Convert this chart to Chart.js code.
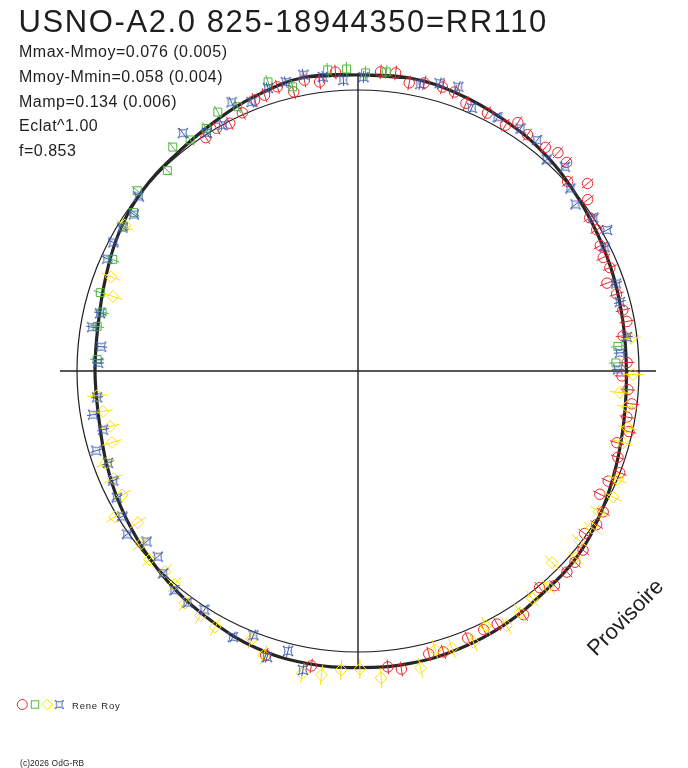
<!DOCTYPE html>
<html>
<head>
<meta charset="utf-8">
<script src="https://cdn.jsdelivr.net/npm/chart.js@4.4.1/dist/chart.umd.min.js"></script>
<style>
html,body{margin:0;padding:0;background:#fff;}
#wrap{position:relative;width:688px;height:768px;overflow:hidden;background:#fff;}
#c{position:absolute;left:0;top:0;}
#txt{position:absolute;left:0;top:0;pointer-events:none;}
#txt text{font-family:"Liberation Sans",Arial,Helvetica,sans-serif;fill:#1e1e1e;}
</style>
</head>
<body>
<div id="wrap">
<canvas id="c" width="688" height="768"></canvas>
<svg id="txt" width="688" height="768" xmlns="http://www.w3.org/2000/svg">
  <text x="18.5" y="32" font-size="31" letter-spacing="1.6">USNO-A2.0 825-18944350=RR110</text>
  <text x="19" y="56.7" font-size="16" letter-spacing="0.5">Mmax-Mmoy=0.076 (0.005)</text>
  <text x="19" y="81.5" font-size="16" letter-spacing="0.5">Mmoy-Mmin=0.058 (0.004)</text>
  <text x="19" y="106.5" font-size="16" letter-spacing="0.5">Mamp=0.134 (0.006)</text>
  <text x="19" y="131" font-size="16" letter-spacing="0.5">Eclat^1.00</text>
  <text x="19" y="155.5" font-size="16" letter-spacing="0.5">f=0.853</text>
  <text transform="translate(625,617) rotate(-45.4)" text-anchor="middle" dy="7.5" font-size="22">Provisoire</text>
  <text x="72" y="709" font-size="9.5" letter-spacing="0.8">Rene Roy</text>
  <text x="20" y="766" font-size="8.4" letter-spacing="0.1">(c)2026 OdG-RB</text>
</svg>
</div>
<script>
// ---------------- DATA (phase 0..1, brightness offset from mean in mag) ----------------
const redPhase = [0.956,0.948,0.971,0.979,0.988,0.012,0.020,0.028,0.036,0.046,0.053,0.061,0.942,0.933,0.924,0.916,0.908,0.964,
  0.550,0.525,0.484,0.477,0.461,0.453,0.438,0.428,0.420,0.405,0.389,0.382,0.372,0.365,0.357,0.349,0.341,0.333,0.325,0.316,0.309,
  0.301,0.293,0.285,0.277,0.269,0.261,0.253,0.245,0.229,0.221,0.214,0.204,0.196,0.188,0.181,0.174,0.165,0.157,0.148,0.141,0.133,
  0.125,0.118,0.111,0.099,0.091,0.086,0.074];
const redDelta = [0.072,0.051,0.074,0.053,0.094,0.095,0.097,0.058,0.073,0.076,0.071,0.038,0.045,0.010,-0.010,0.000,-0.012,0.027,
  0.089,0.088,0.082,0.101,0.053,0.063,0.039,0.033,0.039,0.068,0.008,0.050,0.045,0.041,0.033,-0.011,0.014,0.009,-0.048,-0.038,-0.001,
  -0.036,-0.062,-0.017,-0.041,-0.026,-0.052,-0.085,-0.059,-0.068,-0.038,-0.046,-0.056,-0.085,-0.044,-0.054,-0.041,-0.018,-0.016,0.028,0.077,0.008,
  0.070,0.075,0.054,0.049,0.072,0.028,0.038];

const greenPhase = [0.952,0.964,0.984,0.994,0.004,0.015,0.932,0.921,0.911,0.900,0.890,0.879,0.859,0.848,0.838,0.818,0.797,0.786,0.777,0.757,0.245,0.235];
const greenDelta = [0.109,0.053,0.108,0.106,0.086,0.097,0.047,0.067,0.026,0.023,0.048,-0.022,0.020,-0.032,-0.027,-0.058,-0.058,-0.092,-0.082,-0.099,-0.115,-0.100];

const yellowPhase = [0.839,0.808,0.797,0.735,0.725,0.715,0.705,0.694,0.684,0.673,0.664,0.654,0.643,0.633,0.622,0.613,0.602,0.591,0.581,0.560,0.551,
  0.529,0.519,0.509,0.499,0.488,0.467,0.457,0.448,0.436,0.426,0.416,0.406,0.396,0.385,0.374,0.363,0.354,0.344,0.334,0.323,0.313,0.292,0.283,0.271,0.263,0.252,0.231];
const yellowDelta = [-0.030,-0.084,-0.124,-0.095,-0.114,-0.134,-0.124,-0.062,-0.069,-0.072,0.013,-0.068,-0.018,0.000,-0.012,0.003,0.042,0.049,0.061,0.036,0.092,
  0.131,0.126,0.092,0.085,0.135,0.112,0.042,0.059,0.069,0.020,0.068,0.050,0.028,0.034,-0.041,0.028,-0.010,0.004,-0.010,0.017,0.000,-0.032,-0.027,-0.048,-0.091,-0.030,-0.030];

const bluePhase = [0.951,0.961,0.971,0.981,0.992,0.003,0.034,0.044,0.054,0.940,0.930,0.920,0.910,0.899,0.857,0.847,0.837,0.827,0.817,0.785,0.776,0.765,0.755,
  0.734,0.724,0.714,0.703,0.694,0.683,0.673,0.662,0.652,0.642,0.631,0.622,0.611,0.601,0.591,0.570,0.560,0.549,0.539,0.529,
  0.249,0.239,0.230,0.209,0.198,0.176,0.168,0.158,0.146,0.137,0.126,0.116,0.105,0.094,0.080,0.065];
const blueDelta = [0.080,0.084,0.101,0.076,0.052,0.065,0.063,0.091,0.102,0.041,0.080,-0.002,0.005,0.072,-0.004,-0.038,-0.026,-0.023,-0.031,-0.083,-0.058,-0.115,-0.105,
  -0.094,-0.062,-0.097,-0.037,-0.073,-0.064,-0.043,-0.020,0.009,-0.047,-0.040,-0.001,0.025,0.033,0.014,0.065,0.016,0.096,0.038,0.115,
  -0.105,-0.092,-0.050,-0.051,-0.042,-0.026,0.026,0.000,-0.035,-0.005,0.048,0.012,0.056,0.055,0.043,0.028];

// fitted light curve, read every 10 degrees of phase
const fitPhase = [0.000,0.028,0.056,0.083,0.111,0.139,0.167,0.194,0.222,0.250,0.278,0.306,0.333,0.361,0.389,0.417,0.444,0.472,
  0.500,0.528,0.556,0.583,0.611,0.639,0.667,0.694,0.722,0.750,0.778,0.806,0.833,0.861,0.889,0.917,0.944,0.972];
const fitDelta = [0.075,0.083,0.068,0.048,0.028,0.000,-0.025,-0.043,-0.058,-0.063,-0.053,-0.030,0.000,0.030,0.040,0.060,0.073,0.080,
  0.078,0.079,0.070,0.045,0.020,-0.010,-0.038,-0.065,-0.088,-0.090,-0.085,-0.060,-0.025,0.000,0.010,0.033,0.063,0.088];

// error bar half-lengths (mag) per observer series
const redErr = 0.037, greenErr = 0.035, yellowErr = 0.05, blueErr = 0.03;

// ---------------- LAYOUT / STYLE CONSTANTS ----------------
const MEAN_RADIUS = 1.405;       // radius of mean-magnitude circle (mag units)
const AXIS_HALF = 1.49;          // half length of the cross axes
const X_MIN = -1.79, X_MAX = 1.65, Y_MIN = -1.985, Y_MAX = 1.855;
const C_RED = '#e8242a', C_GREEN = '#4cb83a', C_YELLOW = '#ffe100', C_BLUE = '#3a58b0', C_INK = '#1e1e1e';

function toXY(phase, delta) {
  const r = MEAN_RADIUS + delta;
  const a = phase * 2 * Math.PI;
  return { x: r * Math.sin(a), y: r * Math.cos(a) };
}
function series(ph, de) { return ph.map((p, i) => Object.assign(toXY(p, de[i]), { phase: p, delta: de[i] })); }

function makeStar(s, color) {
  const size = Math.ceil(2 * s + 4);
  const c = document.createElement('canvas');
  c.width = size; c.height = size;
  const g = c.getContext('2d');
  const m = size / 2, k = s * 0.2;
  g.strokeStyle = color; g.lineWidth = 1;
  g.beginPath();
  g.moveTo(m - s, m - s);
  g.quadraticCurveTo(m, m - k, m + s, m - s);
  g.quadraticCurveTo(m + k, m, m + s, m + s);
  g.quadraticCurveTo(m, m + k, m - s, m + s);
  g.quadraticCurveTo(m - k, m, m - s, m - s);
  g.closePath(); g.stroke();
  return c;
}
const starImg = makeStar(5, C_BLUE);
const starLegend = makeStar(4.2, C_BLUE);

const fitPts = series(fitPhase, fitDelta);
const fitLoop = [fitPts[fitPts.length - 1], ...fitPts, fitPts[0], fitPts[1]];

const polarPlugin = {
  id: 'polar',
  beforeDatasetsDraw(chart) {
    const { ctx } = chart, xs = chart.scales.x, ys = chart.scales.y;
    const cx = xs.getPixelForValue(0), cy = ys.getPixelForValue(0);
    const rad = xs.getPixelForValue(MEAN_RADIUS) - cx;
    ctx.save();
    ctx.strokeStyle = C_INK; ctx.lineWidth = 1.2;
    ctx.beginPath(); ctx.arc(cx, cy, rad, 0, Math.PI * 2); ctx.stroke();
    ctx.restore();
  },
  afterDatasetDraw(chart, args) {
    const ds = chart.data.datasets[args.index];
    if (!ds.errBar) return;
    const { ctx } = chart, xs = chart.scales.x, ys = chart.scales.y;
    ctx.save();
    ctx.strokeStyle = ds.borderColor; ctx.lineWidth = 1;
    ctx.beginPath();
    ds.data.forEach(p => {
      const a = toXY(p.phase, p.delta - ds.errBar), b = toXY(p.phase, p.delta + ds.errBar);
      ctx.moveTo(xs.getPixelForValue(a.x), ys.getPixelForValue(a.y));
      ctx.lineTo(xs.getPixelForValue(b.x), ys.getPixelForValue(b.y));
    });
    ctx.stroke();
    ctx.restore();
  },
  afterDraw(chart) {
    const ctx = chart.ctx, y = 704.5;
    ctx.save(); ctx.lineWidth = 1;
    ctx.strokeStyle = C_RED; ctx.beginPath(); ctx.arc(22.3, y, 5, 0, Math.PI * 2); ctx.stroke();
    ctx.strokeStyle = C_GREEN; ctx.strokeRect(31.3, y - 3.7, 7.4, 7.4);
    ctx.strokeStyle = C_YELLOW; ctx.beginPath();
    ctx.moveTo(47.3, y - 5.3); ctx.lineTo(52.5, y); ctx.lineTo(47.3, y + 5.3); ctx.lineTo(42.1, y); ctx.closePath(); ctx.stroke();
    ctx.drawImage(starLegend, 59.3 - starLegend.width / 2, y - starLegend.height / 2);
    ctx.restore();
  }
};

const axisStyle = { showLine: true, pointRadius: 0, borderColor: C_INK, borderWidth: 1.4, tension: 0 };

new Chart(document.getElementById('c'), {
  type: 'scatter',
  data: {
    datasets: [
      { label: 'blue', data: series(bluePhase, blueDelta), pointStyle: starImg, pointRadius: 5, borderColor: C_BLUE, errBar: blueErr },
      { label: 'yellow', data: series(yellowPhase, yellowDelta), pointStyle: 'rectRot', pointRadius: 6, pointBorderWidth: 1,
        borderColor: C_YELLOW, pointBorderColor: C_YELLOW, pointBackgroundColor: 'rgba(0,0,0,0)', errBar: yellowErr },
      { label: 'green', data: series(greenPhase, greenDelta), pointStyle: 'rect', pointRadius: 5.6, pointBorderWidth: 1,
        borderColor: C_GREEN, pointBorderColor: C_GREEN, pointBackgroundColor: 'rgba(0,0,0,0)', errBar: greenErr },
      { label: 'red', data: series(redPhase, redDelta), pointStyle: 'circle', pointRadius: 5.2, pointBorderWidth: 1,
        borderColor: C_RED, pointBorderColor: C_RED, pointBackgroundColor: 'rgba(0,0,0,0)', errBar: redErr },
      { label: 'fit', data: fitLoop, showLine: true, pointRadius: 0, borderColor: '#262626', borderWidth: 3.2, tension: 0.4, fill: false },
      Object.assign({ label: 'hAxis', data: [{ x: -AXIS_HALF, y: 0 }, { x: AXIS_HALF, y: 0 }] }, axisStyle),
      Object.assign({ label: 'vAxis', data: [{ x: 0, y: -AXIS_HALF }, { x: 0, y: AXIS_HALF }] }, axisStyle)
    ]
  },
  options: {
    responsive: false,
    animation: false,
    events: [],
    layout: { padding: 0, autoPadding: false },
    scales: {
      x: { type: 'linear', min: X_MIN, max: X_MAX, display: false },
      y: { type: 'linear', min: Y_MIN, max: Y_MAX, display: false }
    },
    plugins: { legend: { display: false }, tooltip: { enabled: false }, title: { display: false } },
    elements: { point: { borderWidth: 1, hoverRadius: 0 } }
  },
  plugins: [polarPlugin]
});
</script>
</body>
</html>
